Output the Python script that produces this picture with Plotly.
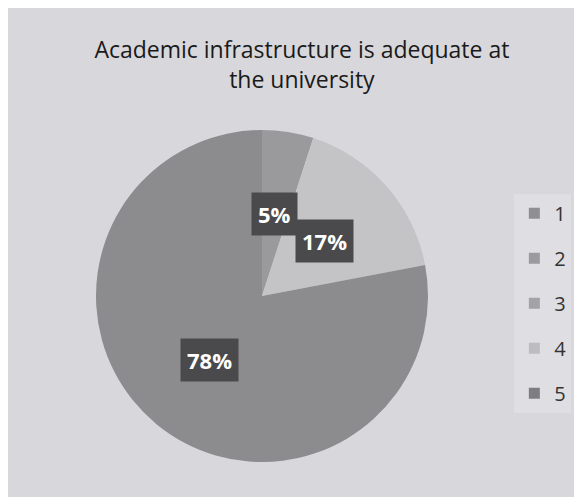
import numpy as np
import plotly.graph_objects as go

# survey answers (Likert 1-5) and share of respondents in %
labels = ["1", "2", "3", "4", "5"]
values = [0, 0, 5, 17, 78]
slice_colors = ["#8f8f91", "#9d9d9f", "#9a9a9c", "#c4c4c6", "#8c8c8e"]
legend_colors = ["#8f8f91", "#9b9b9d", "#a3a3a5", "#bdbdbf", "#7e7e80"]

W, H = 582, 497
cx, cy, rad = 254, 288, 166   # pie centre / radius in px (from top-left)

fig = go.Figure()
fig.add_trace(go.Pie(
    labels=labels, values=values, sort=False, direction="clockwise", rotation=0,
    marker=dict(colors=slice_colors, line=dict(width=0)),
    textinfo="none", hoverinfo="label+percent", showlegend=False,
    domain=dict(x=[(cx - rad) / W, (cx + rad) / W],
                y=[(H - cy - rad) / H, (H - cy + rad) / H]),
))

# legend entries (one group each so they get spaced out like Excel's)
for lab, c in zip(labels, legend_colors):
    fig.add_trace(go.Scatter(
        x=[None], y=[None], mode="markers", name=lab, legendgroup=lab,
        marker=dict(symbol="square", size=11, color=c),
    ))

# dark boxed labels like Excel's data callouts
total = sum(values)
start = 0
for lab, v in zip(labels, values):
    if v > 0:
        ang = np.deg2rad((start + v / 2) / total * 360)
        r = 0.5 * rad
        fig.add_annotation(
            x=(cx + r * np.sin(ang)) / W, y=(H - cy + r * np.cos(ang)) / H,
            xref="paper", yref="paper", xanchor="center", yanchor="middle",
            showarrow=False,
            text="<b>%d%%</b>" % round(v / total * 100),
            font=dict(family="Open Sans", size=22, color="white"),
            bgcolor="#4a4a4c", borderpad=6,
        )
    start += v

fig.update_layout(
    width=W, height=H,
    margin=dict(l=0, r=0, t=0, b=0),
    paper_bgcolor="#d8d7db", plot_bgcolor="rgba(0,0,0,0)",
    xaxis=dict(visible=False), yaxis=dict(visible=False),
    title=dict(text="Academic infrastructure is adequate at<br>the university",
               x=0.505, xanchor="center", y=0.9, yanchor="top",
               font=dict(family="Open Sans", size=23, color="#1a1a1a")),
    legend=dict(x=0.87, y=0.406, xanchor="left", yanchor="middle",
                tracegroupgap=16, itemwidth=30,
                font=dict(family="Open Sans", size=20, color="#333333"),
                bgcolor="#dfdee2"),
)

fig.write_html("out.html")
